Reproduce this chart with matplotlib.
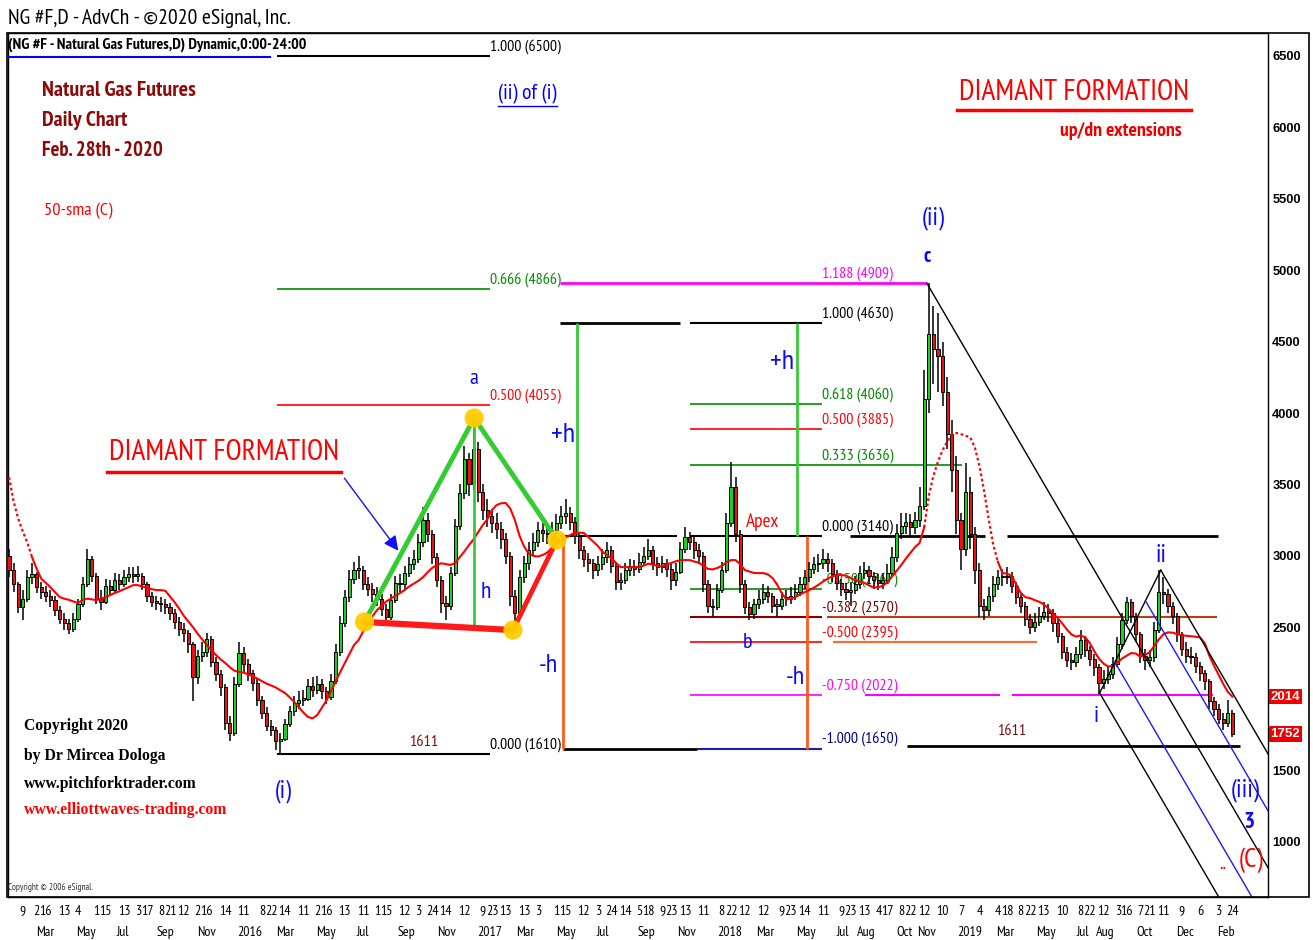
import numpy as np
import pandas as pd
import matplotlib
matplotlib.use('Agg')
import matplotlib.pyplot as plt
import matplotlib.dates as mdates
import matplotlib.transforms as mtransforms
from matplotlib import font_manager as fm
from matplotlib.patches import Rectangle, FancyArrowPatch
from matplotlib.lines import Line2D

W, H = 1313, 940
_names = {f.name for f in fm.fontManager.ttflist}
_narrow = 'Liberation Sans'
for cand in ['Liberation Sans Narrow', 'Arial Narrow', 'PT Sans Narrow', 'Roboto Condensed',
             'Archivo Narrow', 'Asap Condensed']:
    if cand in _names:
        _narrow = cand
        break
NKW = dict(family=[_narrow, 'DejaVu Sans'])
SANS = ['Liberation Sans', 'DejaVu Sans']
SERIF = ['Liberation Serif', 'DejaVu Serif']

# ---------------- data (weekly bars) ----------------
week_start = '2015-01-19'
first_open = 3000
closes = [
    2900, 2800, 2640, 2700, 2850, 2870, 2780, 2750, 2720, 2690,
    2620, 2560, 2530, 2490, 2560, 2660, 2800, 2980, 2860, 2700,
    2680, 2790, 2760, 2830, 2800, 2850, 2870, 2860, 2860, 2800,
    2720, 2680, 2670, 2660, 2640, 2600, 2540, 2490, 2460, 2380,
    2150, 2300, 2330, 2420, 2260, 2170, 2080, 1830, 1760, 2100,
    2320, 2240, 2180, 2110, 1990, 1900, 1810, 1780, 1700, 1720,
    1820, 1910, 1970, 1990, 2000, 2090, 2060, 2100, 2050, 2010,
    2120, 2330, 2530, 2710, 2840, 2900, 2900, 2800, 2770, 2730,
    2700, 2630, 2570, 2690, 2810, 2800, 2880, 2940, 2980, 3100,
    3250, 3150, 2990, 2830, 2670, 2650, 2880, 3210, 3440, 3680,
    3500, 3750, 3450, 3320, 3280, 3230, 3190, 3120, 3000, 2720,
    2600, 2850, 2950, 3040, 3100, 3180, 3160, 3150, 3180, 3230,
    3280, 3300, 3240, 3140, 3040, 2980, 2950, 2900, 2940, 2990,
    3040, 2930, 2820, 2830, 2900, 2930, 2910, 2960, 3000, 3040,
    2950, 2920, 2950, 2910, 2830, 2890, 3050, 3130, 3100, 3040,
    3000, 2800, 2650, 2640, 2760, 2900, 3230, 3480, 3150, 2800,
    2640, 2590, 2660, 2700, 2750, 2720, 2650, 2650, 2700, 2700,
    2720, 2750, 2800, 2850, 2910, 2940, 2950, 2980, 2950, 2870,
    2810, 2770, 2750, 2760, 2800, 2880, 2900, 2860, 2830, 2810,
    2830, 2880, 2990, 3160, 3210, 3240, 3200, 3250, 3350, 4100,
    4550, 4450, 4400, 4150, 3850, 3600, 3250, 3050, 3450, 3150,
    2900, 2650, 2620, 2720, 2800, 2850, 2850, 2860, 2790, 2710,
    2650, 2560, 2500, 2540, 2580, 2610, 2600, 2530, 2440, 2330,
    2270, 2260, 2310, 2410, 2340, 2280, 2220, 2110, 2140, 2170,
    2240, 2380, 2550, 2680, 2580, 2450, 2300, 2270, 2290, 2480,
    2750, 2730, 2650, 2580, 2450, 2350, 2300, 2290, 2230, 2180,
    2120, 1980, 1930, 1860, 1830, 1900, 1752,
]
highs = [
    3050, 2950, 2820, 2760, 2900, 2950, 2890, 2820, 2790, 2760,
    2720, 2650, 2600, 2560, 2600, 2700, 2850, 3050, 3000, 2880,
    2760, 2840, 2830, 2880, 2870, 2900, 2920, 2920, 2930, 2880,
    2820, 2750, 2720, 2710, 2700, 2670, 2630, 2570, 2530, 2480,
    2400, 2340, 2400, 2460, 2440, 2290, 2200, 2100, 1880, 2150,
    2400, 2360, 2280, 2200, 2140, 2020, 1940, 1850, 1800, 1760,
    1860, 1950, 2020, 2050, 2060, 2140, 2150, 2160, 2140, 2080,
    2170, 2380, 2580, 2760, 2900, 2960, 3000, 2930, 2850, 2810,
    2780, 2730, 2660, 2730, 2860, 2870, 2930, 2990, 3040, 3150,
    3340, 3300, 3180, 3020, 2860, 2720, 2920, 3260, 3500, 3770,
    3720, 3990, 3800, 3500, 3400, 3330, 3300, 3240, 3160, 3030,
    2760, 2900, 3000, 3100, 3160, 3240, 3230, 3210, 3240, 3290,
    3350, 3400, 3340, 3270, 3170, 3070, 3020, 2980, 3000, 3050,
    3100, 3070, 2950, 2880, 2950, 2980, 2970, 3020, 3060, 3120,
    3070, 2990, 3000, 2980, 2940, 2950, 3100, 3200, 3170, 3130,
    3080, 3030, 2830, 2700, 2800, 2960, 3300, 3660, 3550, 3180,
    2830, 2680, 2700, 2760, 2800, 2790, 2740, 2700, 2750, 2760,
    2780, 2800, 2850, 2900, 2960, 2990, 3010, 3050, 3020, 2980,
    2900, 2840, 2810, 2820, 2860, 2930, 2960, 2930, 2890, 2870,
    2880, 2940, 3060, 3220, 3300, 3300, 3290, 3310, 3480, 4300,
    4909, 4750, 4700, 4500, 4250, 3950, 3700, 3300, 3650, 3550,
    3200, 2950, 2700, 2780, 2860, 2900, 2910, 2920, 2890, 2820,
    2740, 2680, 2590, 2600, 2640, 2680, 2660, 2630, 2560, 2460,
    2360, 2320, 2360, 2480, 2440, 2370, 2310, 2240, 2200, 2230,
    2290, 2430, 2600, 2710, 2700, 2600, 2470, 2350, 2340, 2540,
    2900, 2850, 2770, 2680, 2600, 2470, 2400, 2360, 2320, 2260,
    2200, 2140, 2010, 1960, 1900, 1990, 1920,
]
lows = [
    2850, 2750, 2600, 2550, 2680, 2800, 2740, 2700, 2680, 2640,
    2580, 2520, 2480, 2450, 2470, 2540, 2640, 2780, 2820, 2660,
    2620, 2660, 2720, 2730, 2760, 2780, 2820, 2810, 2820, 2760,
    2680, 2640, 2620, 2610, 2590, 2550, 2490, 2440, 2400, 2320,
    1980, 2100, 2260, 2290, 2220, 2120, 2020, 1780, 1700, 1740,
    2080, 2180, 2120, 2050, 1950, 1860, 1770, 1740, 1640, 1611,
    1700, 1800, 1880, 1930, 1950, 1980, 2010, 2030, 2000, 1960,
    1990, 2100, 2300, 2500, 2680, 2800, 2840, 2760, 2720, 2680,
    2650, 2580, 2520, 2550, 2670, 2750, 2770, 2850, 2900, 2950,
    3060, 3100, 2940, 2780, 2600, 2550, 2620, 2860, 3180, 3400,
    3420, 3460, 3380, 3250, 3200, 3160, 3120, 3050, 2940, 2650,
    2520, 2580, 2810, 2900, 3000, 3060, 3100, 3080, 3100, 3140,
    3190, 3220, 3180, 3080, 2980, 2920, 2890, 2840, 2860, 2900,
    2950, 2880, 2760, 2760, 2800, 2860, 2860, 2880, 2930, 2970,
    2900, 2860, 2880, 2850, 2760, 2790, 2870, 3020, 3040, 2980,
    2940, 2750, 2600, 2570, 2620, 2740, 2880, 3200, 3100, 2740,
    2590, 2550, 2560, 2630, 2660, 2670, 2600, 2570, 2620, 2650,
    2660, 2690, 2720, 2770, 2820, 2870, 2890, 2910, 2890, 2820,
    2760, 2720, 2690, 2650, 2730, 2770, 2840, 2800, 2770, 2760,
    2770, 2800, 2860, 2960, 3120, 3150, 3140, 3150, 3200, 3320,
    4000, 4200, 4150, 4050, 3750, 3450, 3150, 2900, 3000, 3050,
    2800, 2570, 2550, 2580, 2680, 2760, 2790, 2800, 2740, 2660,
    2600, 2510, 2450, 2470, 2510, 2550, 2540, 2470, 2390, 2280,
    2220, 2200, 2220, 2280, 2290, 2230, 2160, 2030, 2070, 2100,
    2140, 2220, 2350, 2520, 2530, 2400, 2250, 2200, 2220, 2260,
    2460, 2660, 2600, 2520, 2400, 2300, 2250, 2240, 2180, 2120,
    2060, 1930, 1880, 1820, 1780, 1800, 1730,
]
sma50 = [
    3550, 3380, 3260, 3170, 3090, 2990, 2910, 2840, 2810, 2780,
    2745, 2712, 2700, 2692, 2680, 2670, 2690, 2700, 2695, 2690,
    2700, 2710, 2725, 2740, 2752, 2767, 2780, 2795, 2795, 2785,
    2776, 2767, 2760, 2760, 2755, 2715, 2675, 2630, 2580, 2540,
    2500, 2455, 2415, 2375, 2340, 2305, 2275, 2250, 2220, 2195,
    2188, 2182, 2170, 2157, 2140, 2122, 2105, 2092, 2078, 2058,
    2040, 2010, 1977, 1940, 1903, 1872, 1862, 1885, 1935, 1985,
    2050, 2120, 2185, 2248, 2310, 2375, 2410, 2470, 2530, 2575,
    2620, 2650, 2680, 2700, 2720, 2739, 2760, 2785, 2805, 2825,
    2850, 2885, 2915, 2935, 2948, 2942, 2936, 2950, 2990, 3030,
    3075, 3115, 3165, 3215, 3255, 3320, 3355, 3368, 3370, 3330,
    3250, 3140, 3065, 3015, 3000, 2995, 3005, 3022, 3055, 3088,
    3110, 3128, 3145, 3160, 3162, 3160, 3130, 3100, 3070, 3030,
    3005, 2985, 2950, 2921, 2921, 2921, 2921, 2921, 2932, 2945,
    2940, 2928, 2925, 2940, 2950, 2962, 2970, 2970, 2970, 2960,
    2951, 2930, 2908, 2905, 2915, 2930, 2955, 2970, 2970, 2940,
    2900, 2890, 2880, 2879, 2879, 2870, 2845, 2800, 2740, 2695,
    2700, 2712, 2730, 2745, 2760, 2777, 2797, 2820, 2840, 2856,
    2865, 2865, 2862, 2845, 2829, 2820, 2810, 2793, 2778, 2780,
    2790, 2815, 2855, 2895, 2935, 2980, 3020, 3061, 3090, 3200,
    3420, 3560, 3660, 3740, 3800, 3845, 3860, 3852, 3840, 3830,
    3760, 3630, 3460, 3260, 3080, 2960, 2880, 2875, 2860, 2800,
    2740, 2710, 2704, 2690, 2678, 2660, 2630, 2598, 2565, 2527,
    2485, 2450, 2434, 2443, 2430, 2389, 2331, 2280, 2245, 2225,
    2228, 2252, 2280, 2300, 2319, 2316, 2293, 2305, 2325, 2368,
    2414, 2450, 2464, 2462, 2452, 2444, 2440, 2437, 2434, 2428,
    2389, 2300, 2232, 2168, 2104, 2048, 2014,
]
sma_dotted_spans = [(0, 5), (199, 215)]

# Fibonacci levels (ratio label -> price)
left_levels = [('1.000', 6500), ('0.666', 4866), ('0.500', 4055), ('0.000', 1610)]
mid_levels = [('1.188', 4909), ('1.000', 4630), ('0.618', 4060), ('0.500', 3885),
              ('0.333', 3636), ('0.000', 3140), ('-0.250', 2767), ('-0.382', 2570),
              ('-0.500', 2395), ('-0.750', 2022), ('-1.000', 1650)]
left_span = ('2016-03-02', '2017-01-20')
mid_span = ('2017-11-20', '2018-06-10')

# diamond pivots (date, price)
diamond_dates = ['2016-07-13', '2016-12-27', '2017-02-24', '2017-05-02']
diamond_vals = [2537, 3965, 2480, 3111]

# pitchfork pivots: c, i, ii
fork_dates = ['2018-11-16', '2019-08-06', '2019-11-07']
fork_vals = [4909, 2040, 2900]

last_price = 1752
last_sma = 2014

yticks = [1000, 1500, 2500, 3000, 3500, 4000, 4500, 5000, 5500, 6000, 6500]
day_ticks = [
    '2015-02-09', '2015-03-02', '2015-03-16', '2015-04-13', '2015-05-04', '2015-06-01', '2015-06-15',
    '2015-07-13', '2015-08-03', '2015-08-17', '2015-09-08', '2015-09-21', '2015-10-12', '2015-11-02',
    '2015-11-16', '2015-12-14', '2016-01-11', '2016-02-08', '2016-02-22', '2016-03-14', '2016-04-11',
    '2016-05-02', '2016-05-16', '2016-06-13', '2016-07-11', '2016-08-01', '2016-08-15', '2016-09-12',
    '2016-10-03', '2016-10-24', '2016-11-14', '2016-12-12', '2017-01-09', '2017-01-23', '2017-02-13',
    '2017-03-13', '2017-04-03', '2017-05-01', '2017-05-15', '2017-06-12', '2017-07-03', '2017-07-24',
    '2017-08-14', '2017-09-05', '2017-09-18', '2017-10-09', '2017-10-23', '2017-11-13', '2017-12-11',
    '2018-01-08', '2018-01-22', '2018-02-12', '2018-03-12', '2018-04-09', '2018-04-23', '2018-05-14',
    '2018-06-11', '2018-07-09', '2018-07-23', '2018-08-13', '2018-09-04', '2018-09-17', '2018-10-08',
    '2018-10-22', '2018-11-12', '2018-12-10', '2019-01-07', '2019-02-04', '2019-03-04', '2019-03-18',
    '2019-04-08', '2019-04-22', '2019-05-13', '2019-06-10', '2019-07-08', '2019-07-22', '2019-08-12',
    '2019-09-03', '2019-09-16', '2019-10-07', '2019-10-21', '2019-11-11', '2019-12-09', '2020-01-06',
    '2020-02-03', '2020-02-24']
month_starts = ['2015-03-01', '2015-05-01', '2015-07-01', '2015-09-01', '2015-11-01', '2016-01-01',
                '2016-03-01', '2016-05-01', '2016-07-01', '2016-09-01', '2016-11-01', '2017-01-01',
                '2017-03-01', '2017-05-01', '2017-07-01', '2017-09-01', '2017-11-01', '2018-01-01',
                '2018-03-01', '2018-05-01', '2018-07-01', '2018-08-01', '2018-10-01', '2018-11-01',
                '2019-01-01', '2019-03-01', '2019-05-01', '2019-07-01', '2019-08-01', '2019-10-01',
                '2019-12-01', '2020-02-01']
month_labels = ['Mar', 'May', 'Jul', 'Sep', 'Nov', '2016', 'Mar', 'May', 'Jul', 'Sep', 'Nov', '2017',
                'Mar', 'May', 'Jul', 'Sep', 'Nov', '2018', 'Mar', 'May', 'Jul', 'Aug', 'Oct', 'Nov',
                '2019', 'Mar', 'May', 'Jul', 'Aug', 'Oct', 'Dec', 'Feb']

# ---------------- figure ----------------
def D(s):
    return mdates.datestr2num(s)

fig = plt.figure(figsize=(W / 100, H / 100), dpi=100)
fig.patch.set_facecolor('white')
ax = fig.add_axes([8 / W, 1 - 897 / H, (1268 - 8) / W, (897 - 33) / H])
ax.set_facecolor('white')
base = D('2016-01-01')
ax.set_xlim(base - 348.6, base + 1569.3)
ax.set_ylim(611, 6661)
for sp in ax.spines.values():
    sp.set_linewidth(1.0)
    sp.set_color('black')
ax.set_xticks([])
ax.yaxis.tick_right()
ax.set_yticks(yticks)
ax.set_yticklabels([str(v) for v in yticks])
ax.tick_params(axis='y', length=0, pad=3, labelsize=9.3)
for lbl in ax.get_yticklabels():
    lbl.set_fontweight('bold')
    lbl.set_family(SANS)

fig.add_artist(Rectangle((7 / W, 1 - 897 / H), (1309 - 7) / W, (897 - 33) / H,
                         transform=fig.transFigure, fill=False, ec='black', lw=1.2))

renderer = fig.canvas.get_renderer()
to_fit = []


def T(x, y, s, size, color='black', weight='normal', family=None, ha='center', va='center', w=None, **kw):
    props = dict(NKW) if family is None else dict(family=family)
    t = fig.text(x / W, 1 - y / H, s, fontsize=size, color=color, fontweight=weight,
                 ha=ha, va=va, **props, **kw)
    if w is not None:
        to_fit.append((t, w))
    return t


def fitted_size(s, target, weight='normal', props=None):
    props = dict(NKW) if props is None else props
    t = fig.text(0, 0, s, fontsize=10, fontweight=weight, **props)
    wpx = t.get_window_extent(renderer).width
    t.remove()
    return 10 * target / wpx


def FL(x0, x1, y, color, lw):
    fig.add_artist(Line2D([x0 / W, x1 / W], [1 - y / H, 1 - y / H], color=color, lw=lw,
                          transform=fig.transFigure))


def hseg(d0, d1, v, color, lw=1.2, z=2):
    ax.plot([D(d0), D(d1)], [v, v], color=color, lw=lw, zorder=z, solid_capstyle='butt')


def vseg(d, v0, v1, color, lw=2.0, z=2):
    ax.plot([D(d), D(d)], [v0, v1], color=color, lw=lw, zorder=z, solid_capstyle='butt')


FIB_FS = fitted_size('0.666 (4866)', 71)


def flabel(d, v, s, color):
    ax.text(D(d), v + 15, s, color=color, fontsize=FIB_FS, ha='left', va='bottom', zorder=2, **NKW)


# ---------------- fib levels ----------------
GREEN = '#008a00'
lv = dict(left_levels)
hseg(*left_span, lv['1.000'], 'black', 1.5)
hseg(*left_span, lv['0.666'], GREEN, 1.2)
hseg(*left_span, lv['0.500'], '#ff0000', 1.2)
hseg(*left_span, lv['0.000'], 'black', 1.5)
lcolors = {'1.000': 'black', '0.666': GREEN, '0.500': '#ff0000', '0.000': 'black'}
for k, v in left_levels:
    flabel(left_span[1], v, f'{k} ({v})', lcolors[k])

mv = dict(mid_levels)
hseg('2017-05-07', '2018-11-17', mv['1.188'], '#ff00ff', 2.0)
hseg('2017-05-07', '2017-11-05', mv['1.000'], 'black', 2.0)
hseg(*mid_span, mv['1.000'], 'black', 1.5)
hseg(*mid_span, mv['0.618'], GREEN, 1.2)
hseg(*mid_span, mv['0.500'], '#ff0000', 1.2)
hseg(mid_span[0], '2019-01-09', mv['0.333'], GREEN, 1.2)
hseg('2017-05-07', '2017-11-01', mv['0.000'], 'black', 1.5)
hseg(*mid_span, mv['0.000'], 'black', 1.5)
hseg('2018-07-22', '2019-02-12', mv['0.000'], 'black', 2.0)
hseg('2019-03-18', '2020-02-02', mv['0.000'], 'black', 2.0)
hseg(*mid_span, mv['-0.250'], GREEN, 1.2)
hseg(*mid_span, mv['-0.382'], '#800000', 1.5)
hseg('2018-06-17', '2020-01-31', mv['-0.382'], '#b5400f', 1.5)
hseg(*mid_span, mv['-0.500'], '#ff0000', 1.2)
hseg('2018-06-26', '2019-05-03', mv['-0.500'], '#ff6a2a', 1.5)
hseg(*mid_span, mv['-0.750'], '#ff00ff', 1.2)
hseg('2018-08-14', '2019-03-07', mv['-0.750'], '#ff00ff', 1.5)
hseg('2019-03-26', '2020-01-25', mv['-0.750'], '#ff00ff', 1.5)
hseg('2017-05-11', '2017-12-01', mv['-1.000'], 'black', 2.0)
hseg('2017-12-01', mid_span[1], mv['-1.000'], '#1c1cb0', 1.5)
hseg('2018-10-17', '2020-03-07', 1665, 'black', 2.0)
mcolors = {'1.188': '#ff00ff', '1.000': 'black', '0.618': GREEN, '0.500': '#ff0000',
           '0.333': GREEN, '0.000': 'black', '-0.250': GREEN, '-0.382': '#800000',
           '-0.500': '#ff0000', '-0.750': '#ff00ff', '-1.000': '#000080'}
for k, v in mid_levels:
    flabel(mid_span[1], v, f'{k} ({v})', mcolors[k])

# h lines
LG = '#33cc33'
OR = '#ff5a1a'
vseg(diamond_dates[1], 2490, diamond_vals[1], LG, 2.0, z=6)
vseg('2017-06-01', mv['0.000'], mv['1.000'], LG, 2.0)
vseg('2017-05-11', mv['-1.000'], mv['0.000'], OR, 2.0)
vseg('2018-05-02', mv['0.000'], mv['1.000'], LG, 2.0)
vseg('2018-05-17', mv['-1.000'], mv['0.000'], OR, 2.0)

# ---------------- candles ----------------
dates = pd.date_range(week_start, periods=len(closes), freq='7D')
xd = mdates.date2num(dates)
o = np.array([first_open] + closes[:-1], float)
c = np.array(closes, float)
hi = np.array(highs, float)
lo = np.array(lows, float)
ax.vlines(xd, lo, hi, color='black', lw=1.1, zorder=3)
body_bottom = np.minimum(o, c)
body_h = np.maximum(np.abs(c - o), 12)
cols = np.where(c >= o, '#19d219', '#ee1111')
ax.bar(xd, body_h, bottom=body_bottom, width=4.8, color=cols, edgecolor='black', linewidth=0.7, zorder=4)

# ---------------- 50-sma ----------------
sma = np.array(sma50, float)
solid = sma.copy()
for a, b in sma_dotted_spans:
    solid[a + 1:b] = np.nan
    if a == 0:
        solid[0] = np.nan
ax.plot(xd, solid, color='#ff0000', lw=1.5, zorder=5)
for a, b in sma_dotted_spans:
    ax.plot(xd[a:b + 1], sma[a:b + 1], color='#ff0000', lw=1.6, ls=(0, (1.2, 1.2)), zorder=5)

# ---------------- diamond ----------------
dx = [D(s) for s in diamond_dates]
dv = diamond_vals
ax.plot([dx[0], dx[1], dx[3]], [dv[0], dv[1], dv[3]], color=LG, lw=3.5, zorder=7, solid_capstyle='round')
ax.plot([dx[0], dx[2]], [dv[0], dv[2]], color='#ff1a1a', lw=4.5, zorder=7, solid_capstyle='round')
ax.plot([dx[2], dx[3]], [dv[2], dv[3]], color='#ff1a1a', lw=3.5, zorder=7, solid_capstyle='round')
ax.scatter(dx, dv, s=190, color='#ffcc00', zorder=8, edgecolors='none', alpha=0.95)

arr = FancyArrowPatch((D('2016-06-10'), 3559), (D('2016-09-05'), 3020), arrowstyle='-|>',
                      mutation_scale=22, color='#1010ff', lw=1.0, zorder=8)
ax.add_patch(arr)

# ---------------- pitchfork ----------------
fx = [D(s) for s in fork_dates]
P0 = np.array([fx[0], fork_vals[0]])
P1 = np.array([fx[1], fork_vals[1]])
P2 = np.array([fx[2], fork_vals[2]])
Mid = (P1 + P2) / 2
dvec = Mid - P0
ax.plot([P1[0], P2[0]], [P1[1], P2[1]], color='black', lw=1.0, zorder=6)
for start, col, k in [(P0, 'black', 3.0), (P1, 'black', 2.0), (P2, 'black', 2.0),
                      (P1 + 0.25 * (P2 - P1), '#1a1aff', 2.0), (P1 + 0.75 * (P2 - P1), '#1a1aff', 2.0)]:
    end = start + dvec * k
    ax.plot([start[0], end[0]], [start[1], end[1]], color=col, lw=1.0, zorder=6)

# ---------------- right price boxes ----------------
btrans = mtransforms.blended_transform_factory(ax.transAxes, ax.transData)
for v in (last_sma, last_price):
    ax.text(1.002, v, str(v), transform=btrans, ha='left', va='center', fontsize=9.5, color='white',
            fontweight='bold', family=SANS, clip_on=False,
            bbox=dict(boxstyle='square,pad=0.12', fc='#ee0000', ec='none'))

# ---------------- date axis ----------------
DATE_FS = fitted_size('2016', 25)
xt = ax.get_xaxis_transform()
for s in day_ticks:
    ax.text(D(s), -0.0165, str(int(s[-2:])), transform=xt, ha='center', va='center',
            fontsize=DATE_FS, clip_on=False, **NKW)
for s, lab in zip(month_starts, month_labels):
    ax.text(D(s), -0.041, lab, transform=xt, ha='left', va='center',
            fontsize=DATE_FS, clip_on=False, **NKW)

# ---------------- texts ----------------
T(8, 18, 'NG #F,D - AdvCh - \u00a92020 eSignal, Inc.', 14, ha='left', w=285)
T(8, 45, '(NG #F - Natural Gas Futures,D) Dynamic,0:00-24:00', 10, weight='bold', ha='left', w=300)
FL(8, 270, 57, '#0000ff', 1.5)

DR = '#8b0a0a'
T(42, 91, 'Natural Gas Futures', 13, DR, 'bold', ha='left', w=153)
T(42, 121, 'Daily Chart', 13, DR, 'bold', ha='left', w=85)
T(42, 151, 'Feb. 28th - 2020', 13, DR, 'bold', ha='left', w=121)
T(44, 211, '50-sma (C)', 12, '#ff0000', ha='left', w=68)

T(527, 94, '(ii) of (i)', 14, '#0000ff', w=59)
FL(498, 557, 106, '#0000ff', 1.0)

T(1074, 92, 'DIAMANT FORMATION', 18, '#ff0000', w=232)
FL(957, 1191, 110, '#ff0000', 2.5)
T(1121, 131, 'up/dn extensions', 13, '#ee0000', 'bold', w=122)

T(224, 453, 'DIAMANT FORMATION', 18, '#ff0000', w=232)
FL(107, 341, 472, '#ff0000', 2.5)

BL = '#0a0aff'
T(474, 378, 'a', 16, BL)
T(486, 592, 'h', 17, BL)
T(563, 435, '+h', 16, BL, w=24)
T(548, 665, '-h', 16, BL, w=19)
T(782, 362, '+h', 16, BL, w=24)
T(795, 678, '-h', 16, BL, w=19)
T(748, 642, 'b', 16, BL)
T(763, 522, 'Apex', 13, '#ff0000', w=33)
T(283, 791, '(i)', 16, BL, w=17)
T(933, 218, '(ii)', 17, BL, w=23)
T(927, 256, 'c', 15, BL, 'bold')
T(1161, 555, 'ii', 16, BL, w=11)
T(1096, 716, 'i', 17, BL)
T(1245, 790, '(iii)', 16, BL, w=29)
T(1249, 822, '3', 17, BL, 'bold')
T(1251, 860, '(C)', 17, '#ff0000', w=25)
T(1223, 864, '..', 14, '#ff0000')
T(424, 742, '1611', 13, '#7a1010', w=29)
T(1012, 731, '1611', 13, '#7a1010', w=29)

T(24, 726, 'Copyright 2020', 11.2, 'black', 'bold', SERIF, ha='left', w=103)
T(24, 756, 'by Dr Mircea Dologa', 11.2, 'black', 'bold', SERIF, ha='left', w=141)
T(24, 784, 'www.pitchforktrader.com', 11.2, 'black', 'bold', SERIF, ha='left', w=172)
T(24, 810, 'www.elliottwaves-trading.com', 11.2, '#ff0000', 'bold', SERIF, ha='left', w=202)
T(8, 887, 'Copyright \u00a9 2006 eSignal.', 6, '#333333', ha='left', w=86)

for t, wt in to_fit:
    cur = t.get_window_extent(renderer).width
    if cur > 0:
        t.set_fontsize(t.get_fontsize() * wt / cur)

fig.savefig('out.png', dpi=100, facecolor='white')
